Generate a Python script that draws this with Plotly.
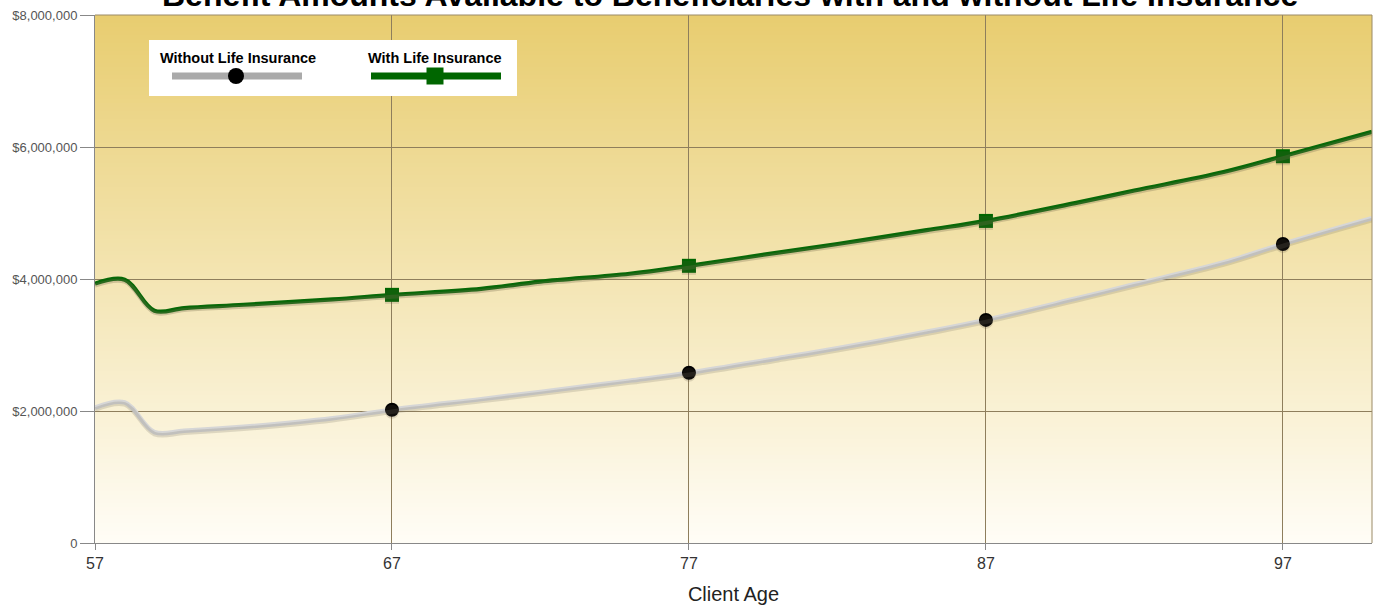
import plotly.graph_objects as go

# ---------------- data ----------------
ages = [57, 58, 59, 60, 62, 65, 67, 70, 72, 75, 77, 80, 82, 85, 87, 90, 92, 95, 97, 100]
with_life = [3.93, 3.99, 3.52, 3.56, 3.61, 3.69, 3.76, 3.85, 3.96, 4.08, 4.20, 4.40, 4.53,
             4.74, 4.88, 5.15, 5.34, 5.62, 5.86, 6.23]
without_life = [2.05, 2.13, 1.68, 1.70, 1.76, 1.89, 2.02, 2.18, 2.29, 2.46, 2.58, 2.80, 2.95,
                3.20, 3.38, 3.70, 3.92, 4.25, 4.53, 4.92]
marker_ages = [67, 77, 87, 97]
y_ticks = [0, 2000000, 4000000, 6000000, 8000000]
y_tick_text = ["0", "$2,000,000", "$4,000,000", "$6,000,000", "$8,000,000"]
x_ticks = [57, 67, 77, 87, 97]

with_vals = [v * 1e6 for v in with_life]
without_vals = [v * 1e6 for v in without_life]
mk_with = [with_vals[ages.index(a)] for a in marker_ages]
mk_without = [without_vals[ages.index(a)] for a in marker_ages]

# ---------------- layout constants ----------------
W, H = 1375, 607
ML, MR, MT, MB = 95, 3, 15, 64
PW, PH = W - ML - MR, H - MT - MB
YMAX = 8000000
shadow_dy = 2 * YMAX / PH  # 2 px

GREEN = "#086808"
GRAY_LINE = "#d6d6d6"

fig = go.Figure()

# shadows (drawn on an overlaid axis shifted by a couple of pixels)
fig.add_trace(go.Scatter(x=ages, y=without_vals, mode="lines", line=dict(color="rgba(120,115,100,0.22)", width=4.5, shape="spline"),
                         xaxis="x2", yaxis="y2", hoverinfo="skip", showlegend=False))
fig.add_trace(go.Scatter(x=ages, y=with_vals, mode="lines", line=dict(color="rgba(120,110,80,0.3)", width=4, shape="spline"),
                         xaxis="x2", yaxis="y2", hoverinfo="skip", showlegend=False))
fig.add_trace(go.Scatter(x=marker_ages, y=mk_without, mode="markers",
                         marker=dict(symbol="circle", size=14, color="rgba(90,80,60,0.18)", line=dict(width=0)),
                         xaxis="x2", yaxis="y2", hoverinfo="skip", showlegend=False))
fig.add_trace(go.Scatter(x=marker_ages, y=mk_with, mode="markers",
                         marker=dict(symbol="square", size=14, color="rgba(90,80,60,0.18)", line=dict(width=0)),
                         xaxis="x2", yaxis="y2", hoverinfo="skip", showlegend=False))

# main lines
fig.add_trace(go.Scatter(x=ages, y=without_vals, mode="lines", name="Without Life Insurance",
                         line=dict(color=GRAY_LINE, width=4.5, shape="spline"), showlegend=False))
fig.add_trace(go.Scatter(x=ages, y=with_vals, mode="lines", name="With Life Insurance",
                         line=dict(color=GREEN, width=4.2, shape="spline"), showlegend=False))
fig.add_trace(go.Scatter(x=marker_ages, y=mk_without, mode="markers", name="Without Life Insurance",
                         marker=dict(symbol="circle", size=14, color="black", line=dict(width=0)), showlegend=False))
fig.add_trace(go.Scatter(x=marker_ages, y=mk_with, mode="markers", name="With Life Insurance",
                         marker=dict(symbol="square", size=14, color="#006600", line=dict(width=0)), showlegend=False))

# ---------------- background gradient ----------------
top = (232, 205, 112)
bot = (255, 253, 246)
N = 132
shapes = []
for i in range(N):
    t = i / (N - 1)  # 0 bottom -> 1 top
    c = tuple(int(round(bot[k] + (top[k] - bot[k]) * t)) for k in range(3))
    shapes.append(dict(type="rect", xref="x domain", yref="y domain", x0=0, x1=1,
                       y0=i / N, y1=min(1, (i + 1) / N + 0.002), line=dict(width=0),
                       fillcolor="rgb(%d,%d,%d)" % c, layer="below"))

# frame (top / right)
shapes.append(dict(type="line", xref="x domain", yref="y domain", x0=0, x1=1, y0=1, y1=1,
                   line=dict(color="#9a8a66", width=1), layer="above"))
shapes.append(dict(type="line", xref="x domain", yref="y domain", x0=1, x1=1, y0=0, y1=1,
                   line=dict(color="#9a8a66", width=1), layer="above"))

# ---------------- custom legend ----------------
def px_x(px):
    return (px - ML) / PW

def px_y(py):
    return (H - MB - py) / PH

shapes.append(dict(type="rect", xref="paper", yref="paper", x0=px_x(149), x1=px_x(517),
                   y0=px_y(96), y1=px_y(40), fillcolor="white", line=dict(width=0), layer="above"))
shapes.append(dict(type="line", xref="paper", yref="paper", x0=px_x(172), x1=px_x(302),
                   y0=px_y(76), y1=px_y(76), line=dict(color="#aaaaaa", width=7), layer="above"))
shapes.append(dict(type="circle", xref="paper", yref="paper", xsizemode="pixel", ysizemode="pixel",
                   xanchor=px_x(236), yanchor=px_y(76), x0=-8, x1=8, y0=-8, y1=8,
                   fillcolor="black", line=dict(width=0), layer="above"))
shapes.append(dict(type="line", xref="paper", yref="paper", x0=px_x(371), x1=px_x(501),
                   y0=px_y(76), y1=px_y(76), line=dict(color="#006600", width=7), layer="above"))
shapes.append(dict(type="rect", xref="paper", yref="paper", xsizemode="pixel", ysizemode="pixel",
                   xanchor=px_x(435), yanchor=px_y(76), x0=-8.5, x1=8.5, y0=-8.5, y1=8.5,
                   fillcolor="#006600", line=dict(width=0), layer="above"))

annotations = [
    dict(text="<b>Without Life Insurance</b>", xref="paper", yref="paper", x=px_x(237.5), y=px_y(58),
         xanchor="center", yanchor="middle", showarrow=False,
         font=dict(family="Liberation Sans, Arial, sans-serif", size=14.5, color="black")),
    dict(text="<b>With Life Insurance</b>", xref="paper", yref="paper", x=px_x(435.5), y=px_y(58),
         xanchor="center", yanchor="middle", showarrow=False,
         font=dict(family="Liberation Sans, Arial, sans-serif", size=14.5, color="black")),
    dict(text="<b>Benefit Amounts Available to Beneficiaries with and without Life Insurance</b>",
         xref="paper", yref="paper", x=px_x(730), y=1, xanchor="center", yanchor="bottom", yshift=0,
         showarrow=False, font=dict(family="Liberation Sans, Arial, sans-serif", size=32, color="black")),
]

axis_font = "Liberation Sans, Arial, sans-serif"
fig.update_layout(
    width=W, height=H,
    margin=dict(l=ML, r=MR, t=MT, b=MB),
    paper_bgcolor="white",
    plot_bgcolor="rgba(0,0,0,0)",
    shapes=shapes,
    annotations=annotations,
    showlegend=False,
    xaxis=dict(range=[57, 100], tickmode="array", tickvals=x_ticks, ticktext=[str(v) for v in x_ticks],
               showgrid=True, gridcolor="#8e7e5c", gridwidth=1, zeroline=False,
               showline=True, linecolor="#888888", linewidth=1,
               ticks="outside", ticklen=6, tickcolor="#888888",
               tickfont=dict(family=axis_font, size=16, color="#333333"),
               title=dict(text="Client Age", font=dict(family=axis_font, size=20, color="#222222"), standoff=15),
               fixedrange=True),
    yaxis=dict(range=[0, YMAX], tickmode="array", tickvals=y_ticks, ticktext=y_tick_text,
               showgrid=True, gridcolor="#8e7e5c", gridwidth=1, zeroline=False,
               showline=True, linecolor="#888888", linewidth=1,
               ticks="outside", ticklen=14, tickcolor="#888888",
               tickfont=dict(family=axis_font, size=13, color="#555555"),
               fixedrange=True),
    xaxis2=dict(range=[57, 100], overlaying="x", visible=False, fixedrange=True),
    yaxis2=dict(range=[shadow_dy, YMAX + shadow_dy], overlaying="y", visible=False, fixedrange=True),
)

fig.write_html("out.html")
